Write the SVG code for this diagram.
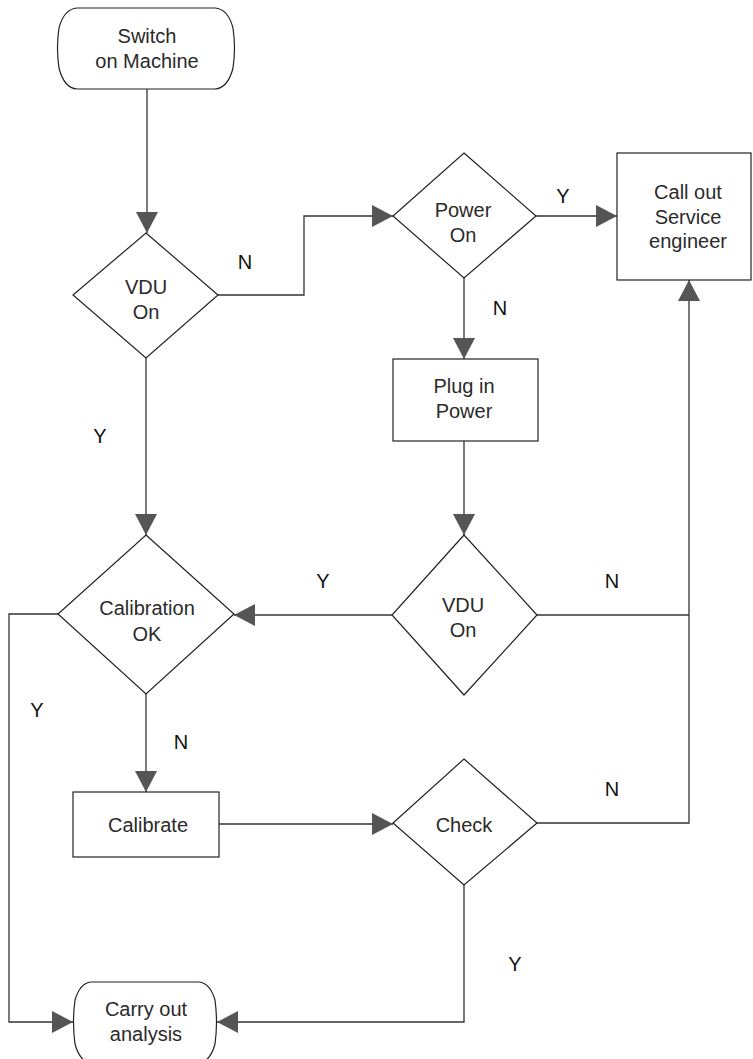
<svg xmlns="http://www.w3.org/2000/svg" width="753" height="1059" viewBox="0 0 753 1059">
<defs>
<style>
.shape{fill:#fff;stroke:#222;stroke-width:1.2}
.conn{fill:none;stroke:#333;stroke-width:1.3}
.t{font-family:"Liberation Sans",Arial,sans-serif;font-size:20px;fill:#2a2a2a;text-anchor:middle}
.lbl{font-family:"Liberation Sans",Arial,sans-serif;font-size:20px;fill:#111;text-anchor:middle}
</style>
<marker id="arr" markerUnits="userSpaceOnUse" markerWidth="22" markerHeight="22" viewBox="0 0 21 22" refX="21" refY="11" orient="auto">
<path d="M0,0 L21,11 L0,22 Z" fill="#555"/>
</marker>
</defs>
<rect width="753" height="1059" fill="#fff"/>
<g id="connectors">
<path class="conn" d="M147,89 V233" marker-end="url(#arr)"/>
<path class="conn" d="M218,295 H304 V216 H393" marker-end="url(#arr)"/>
<path class="conn" d="M536,216 H617" marker-end="url(#arr)"/>
<path class="conn" d="M464,278 V359" marker-end="url(#arr)"/>
<path class="conn" d="M146,358 V535" marker-end="url(#arr)"/>
<path class="conn" d="M464,441 V535" marker-end="url(#arr)"/>
<path class="conn" d="M392,615 H234" marker-end="url(#arr)"/>
<path class="conn" d="M537,615 H689"/>
<path class="conn" d="M537,823 H689 V280" marker-end="url(#arr)"/>
<path class="conn" d="M58,614 H9 V1022 H73" marker-end="url(#arr)"/>
<path class="conn" d="M146,694 V792" marker-end="url(#arr)"/>
<path class="conn" d="M219,824 H393" marker-end="url(#arr)"/>
<path class="conn" d="M464,885 V1022 H217" marker-end="url(#arr)"/>
</g>
<g id="labels">
<text class="lbl" x="245" y="269">N</text>
<text class="lbl" x="563" y="203">Y</text>
<text class="lbl" x="500" y="315">N</text>
<text class="lbl" x="100" y="443">Y</text>
<text class="lbl" x="323" y="588">Y</text>
<text class="lbl" x="612" y="588">N</text>
<text class="lbl" x="37" y="717">Y</text>
<text class="lbl" x="181" y="749">N</text>
<text class="lbl" x="612" y="796">N</text>
<text class="lbl" x="515" y="971">Y</text>
</g>
<g id="switch-on">
<path class="shape" d="M77,8 H215 Q228,9 233,28 Q236,48 233,68 Q228,88 215,89 H77 Q64,88 59,68 Q56,48 59,28 Q64,9 77,8 Z"/>
<text class="t" x="147" y="43">Switch</text>
<text class="t" x="147" y="68">on Machine</text>
</g>
<g id="vdu-on-1">
<polygon class="shape" points="146,233 218,295 146,358 73,295"/>
<text class="t" x="146" y="294">VDU</text>
<text class="t" x="146" y="319">On</text>
</g>
<g id="power-on">
<polygon class="shape" points="464,153 536,216 464,278 393,216"/>
<text class="t" x="463" y="217">Power</text>
<text class="t" x="463" y="242">On</text>
</g>
<g id="call-out">
<rect class="shape" x="617" y="153" width="134" height="127"/>
<text class="t" x="688" y="199">Call out</text>
<text class="t" x="688" y="224">Service</text>
<text class="t" x="688" y="248">engineer</text>
</g>
<g id="plug-in">
<rect class="shape" x="393" y="359" width="145" height="82"/>
<text class="t" x="464" y="393">Plug in</text>
<text class="t" x="464" y="418">Power</text>
</g>
<g id="calibration-ok">
<polygon class="shape" points="146,535 234,614 146,694 58,614"/>
<text class="t" x="147" y="615">Calibration</text>
<text class="t" x="147" y="641">OK</text>
</g>
<g id="vdu-on-2">
<polygon class="shape" points="464,535 537,615 464,695 392,615"/>
<text class="t" x="463" y="612">VDU</text>
<text class="t" x="463" y="637">On</text>
</g>
<g id="calibrate">
<rect class="shape" x="73" y="792" width="146" height="65"/>
<text class="t" x="148" y="832">Calibrate</text>
</g>
<g id="check">
<polygon class="shape" points="464,759 537,823 464,885 393,823"/>
<text class="t" x="464" y="832">Check</text>
</g>
<g id="carry-out">
<path class="shape" d="M91,982 H199 Q210,983 215,1000 Q218,1022 215,1044 Q210,1062 199,1063 H91 Q80,1062 75,1044 Q72,1022 75,1000 Q80,983 91,982 Z"/>
<text class="t" x="146" y="1016">Carry out</text>
<text class="t" x="146" y="1041">analysis</text>
</g>
</svg>
